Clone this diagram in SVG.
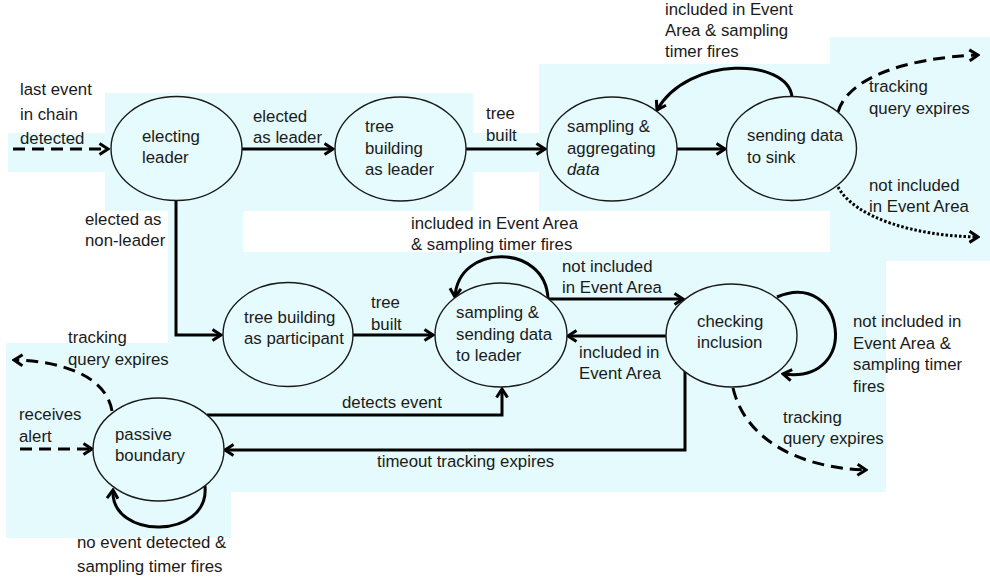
<svg xmlns="http://www.w3.org/2000/svg" width="990" height="581" viewBox="0 0 990 581">
  <defs>
    <marker id="arrow" viewBox="0 0 12 14" refX="10" refY="7" markerWidth="12" markerHeight="14" markerUnits="userSpaceOnUse" orient="auto">
      <path d="M1.5,1.5 L10,7 L1.5,12.5" fill="none" stroke="#000" stroke-width="3" stroke-linejoin="miter"/>
    </marker>
  </defs>
  <style>
    .bg { fill: #e4fafc; }
    .state { fill: #e6fbfd; stroke: #1a1a1a; stroke-width: 1.4; }
    .edge { fill: none; stroke: #000; stroke-width: 3; marker-end: url(#arrow); }
    .dash { stroke-dasharray: 12 7; }
    .dot { stroke-dasharray: 2.5 2; }
    text { font-family: "Liberation Sans", Arial, sans-serif; font-size: 16.8px; fill: #1a1a1a; }
  </style>

  <rect width="990" height="581" fill="#ffffff"/>

  <!-- shaded panels behind the chart -->
  <g id="panels">
    <rect class="bg" x="8" y="133" width="97" height="39"/>
    <rect class="bg" x="105" y="93" width="368" height="118"/>
    <rect class="bg" x="473" y="133" width="66" height="39"/>
    <rect class="bg" x="539" y="64" width="291" height="147"/>
    <rect class="bg" x="830" y="37" width="160" height="224"/>
    <rect class="bg" x="168" y="210" width="75" height="42"/>
    <rect class="bg" x="168" y="252" width="718" height="240"/>
    <rect class="bg" x="6" y="343" width="225" height="195"/>
  </g>

  <!-- transitions -->
  <g id="connectors">
    <path class="edge dash" d="M13,149 L108,149"/>
    <path class="edge" d="M242,149 L333,149"/>
    <path class="edge" d="M466,149 L545,149"/>
    <path class="edge" d="M677,149 L725,149"/>
    <path class="edge" d="M792,97 C788,58 688,55 657,110"/>
    <path class="edge dash" d="M838,112 C848,78 905,58 978,55"/>
    <path class="edge dot" d="M838,187 C855,218 915,236 978,237"/>
    <path class="edge" d="M176,200 L176,335 L221,335"/>
    <path class="edge" d="M353,335 L433,335"/>
    <path class="edge" d="M548,299 C546,243 458,243 455,297"/>
    <path class="edge" d="M548,299 L683,299"/>
    <path class="edge" d="M666,336 L568,336"/>
    <path class="edge" d="M685,371 L685,450 L225,450"/>
    <path class="edge" d="M207,415 L502,415 L502,389"/>
    <path class="edge" d="M777,297 C845,268 862,385 783,374"/>
    <path class="edge dash" d="M733,388 C745,440 800,468 866,470"/>
    <path class="edge dash" d="M112,411 C106,375 60,361 14,360"/>
    <path class="edge dash" d="M20,449 L92,449"/>
    <path class="edge" d="M205,486 C210,540 110,540 113,490"/>
  </g>

  <!-- transition labels -->
  <g id="labels">
    <text x="20" y="94.5">last event</text>
    <text x="20" y="119.5">in chain</text>
    <text x="20" y="144">detected</text>
    <text x="253" y="122">elected</text>
    <text x="253" y="143">as leader</text>
    <text x="486" y="119">tree</text>
    <text x="486" y="140.5">built</text>
    <text x="665" y="15">included in Event</text>
    <text x="665" y="36">Area &amp; sampling</text>
    <text x="665" y="57">timer fires</text>
    <text x="869" y="92">tracking</text>
    <text x="869" y="113.5">query expires</text>
    <text x="869" y="191">not included</text>
    <text x="869" y="212">in Event Area</text>
    <text x="85" y="225">elected as</text>
    <text x="85" y="245.5">non-leader</text>
    <text x="411" y="229">included in Event Area</text>
    <text x="411" y="250">&amp; sampling timer fires</text>
    <text x="371" y="308">tree</text>
    <text x="371" y="330">built</text>
    <text x="562" y="272">not included</text>
    <text x="562" y="293">in Event Area</text>
    <text x="579" y="358">included in</text>
    <text x="579" y="379">Event Area</text>
    <text x="853" y="327">not included in</text>
    <text x="853" y="348.5">Event Area &amp;</text>
    <text x="853" y="370">sampling timer</text>
    <text x="853" y="391.5">fires</text>
    <text x="783" y="423">tracking</text>
    <text x="783" y="444">query expires</text>
    <text x="68" y="343">tracking</text>
    <text x="68" y="364.5">query expires</text>
    <text x="19" y="420">receives</text>
    <text x="19" y="441.5">alert</text>
    <text x="342" y="408">detects event</text>
    <text x="377" y="467">timeout tracking expires</text>
    <text x="77" y="548">no event detected &amp;</text>
    <text x="77" y="571.5">sampling timer fires</text>
  </g>

  <!-- states -->
  <g id="electing-leader">
    <ellipse class="state" cx="176.5" cy="148.5" rx="65.5" ry="52"/>
    <text x="142" y="142">electing</text>
    <text x="142" y="163">leader</text>
  </g>
  <g id="tree-building-leader">
    <ellipse class="state" cx="400.5" cy="149" rx="65.5" ry="52"/>
    <text x="365" y="132">tree</text>
    <text x="365" y="153.5">building</text>
    <text x="365" y="175">as leader</text>
  </g>
  <g id="sampling-aggregating">
    <ellipse class="state" cx="612" cy="149" rx="65" ry="52"/>
    <text x="567" y="132">sampling &amp;</text>
    <text x="567" y="153.5">aggregating</text>
    <text x="567" y="175" font-style="italic">data</text>
  </g>
  <g id="sending-to-sink">
    <ellipse class="state" cx="791.5" cy="148.5" rx="65" ry="52"/>
    <text x="747" y="141">sending data</text>
    <text x="747" y="163">to sink</text>
  </g>
  <g id="tree-building-participant">
    <ellipse class="state" cx="288" cy="334.5" rx="65" ry="52"/>
    <text x="244" y="323">tree building</text>
    <text x="244" y="344">as participant</text>
  </g>
  <g id="sampling-sending-leader">
    <ellipse class="state" cx="501" cy="335" rx="66" ry="52"/>
    <text x="456" y="318">sampling &amp;</text>
    <text x="456" y="339.5">sending data</text>
    <text x="456" y="360.5">to leader</text>
  </g>
  <g id="checking-inclusion">
    <ellipse class="state" cx="731.5" cy="335.5" rx="65.5" ry="51.5"/>
    <text x="697" y="327">checking</text>
    <text x="697" y="348">inclusion</text>
  </g>
  <g id="passive-boundary">
    <ellipse class="state" cx="158.5" cy="449.5" rx="65.5" ry="51.5"/>
    <text x="115" y="440">passive</text>
    <text x="115" y="461">boundary</text>
  </g>
</svg>
